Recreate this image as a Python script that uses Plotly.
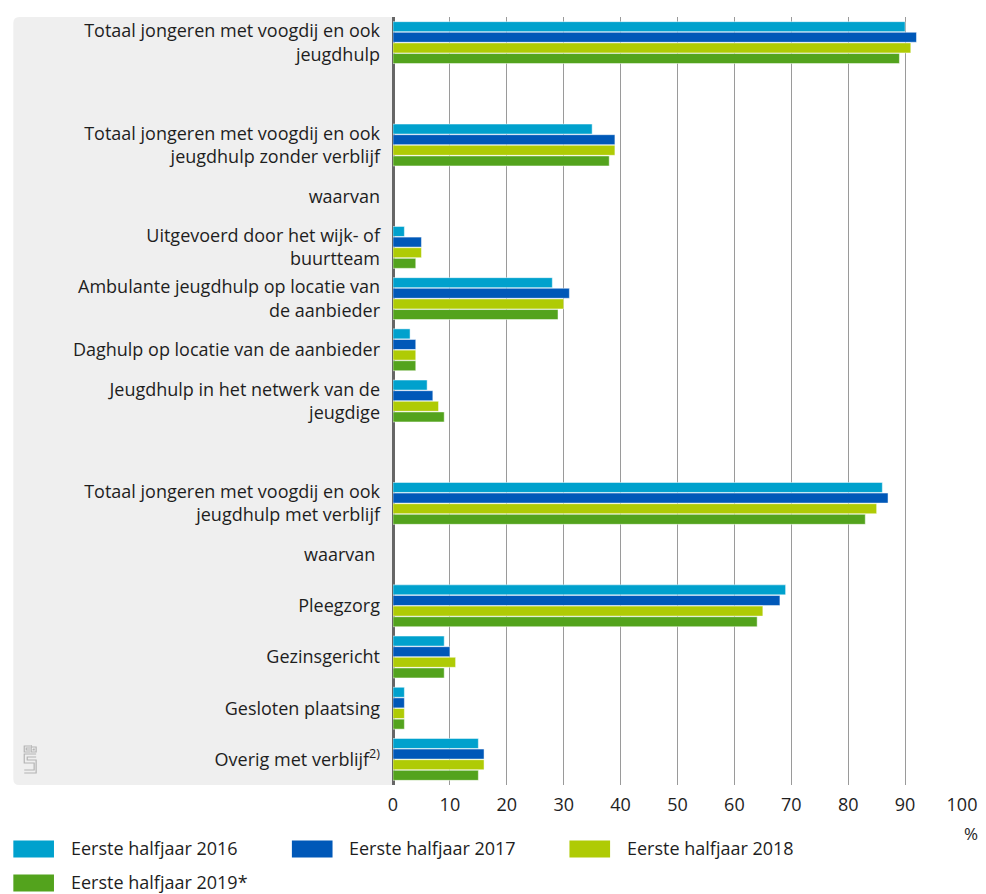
import plotly.graph_objects as go

categories = [
    "Totaal jongeren met voogdij en ook<br>jeugdhulp",
    " ",
    "Totaal jongeren met voogdij en ook<br>jeugdhulp zonder verblijf",
    "waarvan",
    "Uitgevoerd door het wijk- of<br>buurtteam",
    "Ambulante jeugdhulp op locatie van<br>de aanbieder",
    "Daghulp op locatie van de aanbieder",
    "Jeugdhulp in het netwerk van de<br>jeugdige",
    "  ",
    "Totaal jongeren met voogdij en ook<br>jeugdhulp met verblijf",
    "waarvan ",
    "Pleegzorg",
    "Gezinsgericht",
    "Gesloten plaatsing",
    "Overig met verblijf<sup>2)</sup>",
]

series_names = ["Eerste halfjaar 2016", "Eerste halfjaar 2017",
                "Eerste halfjaar 2018", "Eerste halfjaar 2019*"]
series_colors = ["#00a1cd", "#0058b8", "#afcb05", "#53a31d"]

v2016 = [90, None, 35, None, 2, 28, 3, 6, None, 86, None, 69, 9, 2, 15]
v2017 = [92, None, 39, None, 5, 31, 4, 7, None, 87, None, 68, 10, 2, 16]
v2018 = [91, None, 39, None, 5, 30, 4, 8, None, 85, None, 65, 11, 2, 16]
v2019 = [89, None, 38, None, 4, 29, 4, 9, None, 83, None, 64, 9, 2, 15]
series_values = [v2016, v2017, v2018, v2019]

x_ticks = [0, 10, 20, 30, 40, 50, 60, 70, 80, 90, 100]

# page body has an 8px margin, so the figure is a bit smaller than the window
OFF = 8
W, H = 986 - OFF, 894 - OFF
ML, MT = 393 - OFF, 17 - OFF
PW, PH = 574, 768
MR = W - ML - PW
MB = H - MT - PH


def px(x):
    return (x - OFF - ML) / PW


def py(y):
    return (MT + PH - (y - OFF)) / PH


FONT = "Open Sans"
TXT = "#1e1e1e"
FS = 18

fig = go.Figure()
for name, color, vals in zip(series_names, series_colors, series_values):
    fig.add_trace(go.Bar(
        y=categories, x=vals, name=name, orientation="h",
        marker=dict(color=color, line=dict(color="rgba(255,255,255,0.6)", width=0.8)),
        showlegend=False,
    ))

shapes = []
# grey label panel with rounded left corners
x0, x1 = px(10), px(393)
y0, y1 = py(785), py(17)
rx, ry = 6 / PW, 6 / PH
shapes.append(dict(
    type="path", xref="paper", yref="paper", layer="below",
    path=(f"M{x1},{y1} L{x0+rx},{y1} Q{x0},{y1} {x0},{y1-ry} "
          f"L{x0},{y0+ry} Q{x0},{y0} {x0+rx},{y0} L{x1},{y0} Z"),
    fillcolor="#efefef", line=dict(width=0),
))

# small cbs logo
def logo_path(pts):
    return " ".join(("M" if i == 0 else "L") + f"{px(a)},{py(b)}" for i, (a, b) in enumerate(pts))

logo_lines = [
    [(27, 746), (21, 746), (21, 752), (27, 752)],
    [(27, 748), (23, 748), (23, 750), (27, 750)],
    [(28, 745), (28, 752), (33, 752), (33, 747), (28, 747)],
    [(30, 749), (31, 749), (31, 750), (30, 750), (30, 749)],
    [(33, 754), (21, 754), (21, 763), (31, 763), (31, 770), (21, 770)],
    [(33, 757), (24, 757), (24, 760), (33, 760), (33, 773), (21, 773)],
]
for pts in logo_lines:
    shapes.append(dict(type="path", xref="paper", yref="paper", path=logo_path(pts),
                       line=dict(color="#b4b4b4", width=1.2)))

annotations = [dict(
    text="%", xref="paper", yref="paper", x=px(985), y=py(833),
    xanchor="right", yanchor="middle", showarrow=False,
    font=dict(family=FONT, size=FS - 1, color=TXT),
)]

# custom legend (wide swatches like reference)
legend_pos = [(10, 849), (291, 849), (571, 849), (10, 883)]
for (lx, ly), name, color in zip(legend_pos, series_names, series_colors):
    shapes.append(dict(type="rect", xref="paper", yref="paper",
                       x0=px(lx), x1=px(lx + 41), y0=py(ly + 8.5), y1=py(ly - 8.5),
                       fillcolor=color, line=dict(width=0)))
    annotations.append(dict(text=name, xref="paper", yref="paper",
                            x=px(lx + 56), y=py(ly - 1), xanchor="left", yanchor="middle",
                            showarrow=False, font=dict(family=FONT, size=FS, color=TXT)))

fig.update_layout(
    width=W, height=H,
    margin=dict(l=ML, r=MR, t=MT, b=MB),
    paper_bgcolor="white", plot_bgcolor="white",
    barmode="group", bargap=0.17, bargroupgap=0.06,
    font=dict(family=FONT, size=FS, color=TXT),
    shapes=shapes, annotations=annotations,
    showlegend=False,
    xaxis=dict(range=[0, 100], tickvals=x_ticks, showgrid=True, gridcolor="#9a9a9a",
               gridwidth=1, zeroline=True, zerolinecolor="#666666", zerolinewidth=3,
               showline=False, ticks="", tickfont=dict(size=FS, color=TXT),
               ticklabelstandoff=7, fixedrange=True),
    yaxis=dict(categoryorder="array", categoryarray=categories, autorange="reversed",
               showgrid=False, zeroline=False, showline=False, ticks="",
               tickfont=dict(size=FS, color=TXT), ticklabelstandoff=12, fixedrange=True),
)

fig.write_html("out.html")
